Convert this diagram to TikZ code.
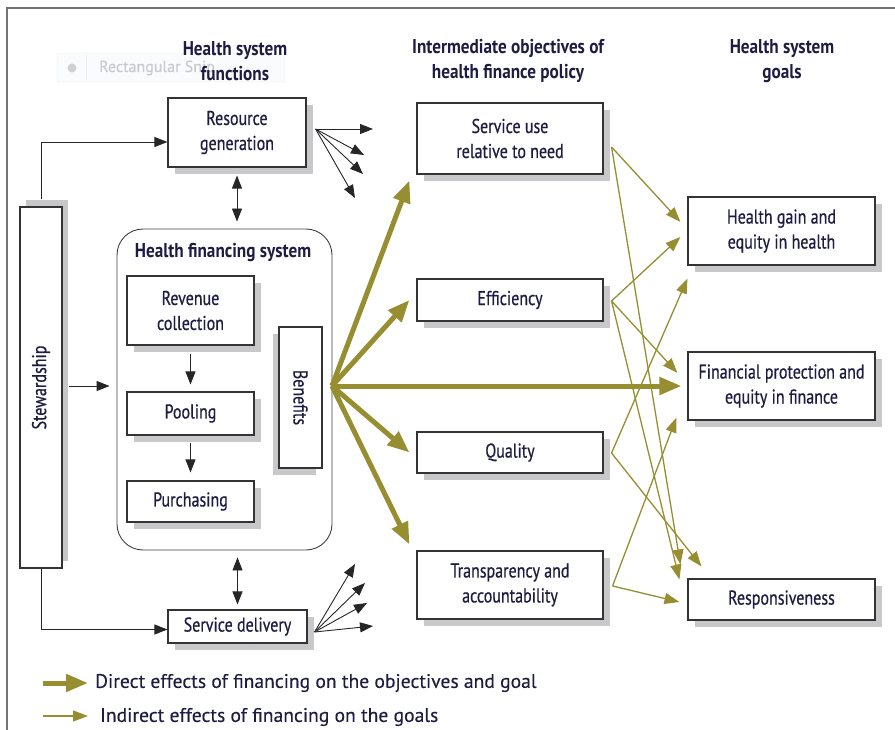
\documentclass[tikz,border=0pt]{standalone}
\usepackage{fontspec}
\setmainfont{PT Sans}[FakeBold=0.3]
\newfontfamily\condfont{PT Sans}[FakeStretch=0.80, FakeBold=0.5]
\newfontfamily\headfont{PT Sans Bold}[FakeStretch=0.86]
\usetikzlibrary{arrows.meta,shadows,calc}

\definecolor{oliveline}{RGB}{150,142,48}
\definecolor{shadowgray}{RGB}{200,200,203}
\definecolor{inkc}{RGB}{30,28,66}
\definecolor{framec}{RGB}{115,115,115}
\definecolor{snipfill}{RGB}{250,251,253}
\definecolor{snipedge}{RGB}{232,235,242}
\definecolor{sniptext}{RGB}{200,202,208}

\tikzset{
  boxtext/.style={text=inkc, font=\condfont\fontsize{20}{25}\selectfont, align=center},
  plainbox/.style={boxtext, draw=black!80, line width=1.1pt, fill=white, inner sep=0pt},
  box/.style={plainbox, drop shadow={shadow xshift=7pt, shadow yshift=-7pt, fill=shadowgray, opacity=1}},
  heading/.style={text=inkc, font=\headfont\fontsize{20}{25}\selectfont, align=center},
  hfsbox/.style={draw=black!75, line width=0.9pt, rounded corners=26pt, fill=white},
  blk/.style={draw=black!85, line width=0.9pt, -{Triangle[length=13pt,width=10pt]}},
  blkboth/.style={draw=black!85, line width=0.9pt, {Triangle[length=13pt,width=10pt]}-{Triangle[length=13pt,width=10pt]}},
  direct/.style={draw=oliveline, line width=5pt, -{Triangle[length=22pt,width=17pt]}},
  indirect/.style={draw=oliveline, line width=1.3pt, -{Triangle[length=15pt,width=11pt]}},
  legendtext/.style={text=inkc, font=\fontsize{19.6}{22}\selectfont, anchor=west, inner sep=0pt}
}

\begin{document}
\begin{tikzpicture}[x=1pt, y=-1pt]
\useasboundingbox (0,0) rectangle (895,730);

% outer frame (top and left edges only)
\draw[framec, line width=1.2pt] (7,730) -- (7,8) -- (895,8);

% faint snipping-tool label left in the background
\draw[draw=snipedge, fill=snipfill, rounded corners=2pt] (57,53) rectangle (285,82);
\node[circle, fill=black!18, minimum size=9pt, inner sep=0pt] (snipdot) at (72,68) {};
\draw[snipedge] (86,55) -- (86,80);
\node[anchor=west, text=sniptext, font=\fontsize{16}{18}\selectfont, inner sep=0pt] (sniptxt) at (99,68) {Rectangular Snip};

% column headings
\node[heading] (h1) at (235,61) {Health system\\functions};
\node[heading] (h2) at (508,61) {Intermediate objectives of\\health finance policy};
\node[heading] (h3) at (782,61) {Health system\\goals};

% health system functions
\node[box, minimum width=138pt, minimum height=69pt] (res) at (237,132.5) {Resource\\generation};
\node[box, minimum width=139pt, minimum height=33pt] (svc) at (237.5,626.5) {Service delivery};
\node[plainbox, minimum width=42pt, minimum height=361pt,
      drop shadow={shadow xshift=6pt, shadow yshift=7pt, fill=shadowgray, opacity=1}]
      (stew) at (41,387.5) {\rotatebox{90}{Stewardship}};

% health financing system
\node[hfsbox, minimum width=215pt, minimum height=321pt] (hfs) at (224.5,389.5) {};
\node[heading, inner sep=0pt] (hfstitle) at (223,253) {Health financing system};
\node[box, minimum width=127pt, minimum height=69pt] (rev) at (190.5,310.5) {Revenue\\collection};
\node[box, minimum width=127pt, minimum height=43pt] (pool) at (190.5,413.5) {Pooling};
\node[box, minimum width=127pt, minimum height=41pt] (purch) at (190.5,501.5) {Purchasing};
\node[plainbox, minimum width=43pt, minimum height=141pt,
      drop shadow={shadow xshift=-6pt, shadow yshift=-7pt, fill=shadowgray, opacity=1}]
      (ben) at (300.5,397.5) {\rotatebox{-90}{Benefits}};

% intermediate objectives
\node[box, minimum width=186pt, minimum height=71pt] (su) at (510,138.5) {Service use\\relative to need};
\node[box, minimum width=186pt, minimum height=42pt] (eff) at (510,300) {Efficiency};
\node[box, minimum width=186pt, minimum height=41pt] (qual) at (510,452.5) {Quality};
\node[box, minimum width=186pt, minimum height=68pt] (trans) at (510,585) {Transparency and\\accountability};

% goals
\node[box, minimum width=187pt, minimum height=68pt] (hg) at (781.5,231) {Health gain and\\equity in health};
\node[box, minimum width=187pt, minimum height=68pt] (fp) at (781.5,386) {Financial protection and\\equity in finance};
\node[box, minimum width=187pt, minimum height=41pt] (resp) at (781.5,599.5) {Responsiveness};

% stewardship links
\draw[blk] ($(stew.north)+(0,-7)$) |- ($(res.west)+(0,9.5)$);
\draw[blk] (stew.south) |- ($(svc.west)+(0,3)$);
\draw[blk, shorten <=6pt, shorten >=7pt] (stew.east |- 0,386) -- (hfs.west |- 0,386);

% links between functions
\draw[blkboth, shorten <=8pt, shorten >=7pt] (res.south) -- (hfs.north -| res.south);
\draw[blkboth, shorten <=7pt, shorten >=5pt] (hfs.south -| svc.north) -- (svc.north);
\draw[blk, shorten <=8pt, shorten >=7pt] (rev.south) -- (pool.north);
\draw[blk, shorten <=7pt, shorten >=8pt] (pool.south) -- (purch.north);

% fans of effects from resource generation and service delivery
\coordinate (rf) at ($(res.east)+(9,-3.5)$);
\coordinate (rf1) at (373,129);
\coordinate (rf2) at (364,155);
\coordinate (rf3) at (363,174);
\coordinate (rf4) at (355,198);
\foreach \t in {rf1,rf2,rf3,rf4} \draw[blk] (rf) -- (\t);
\coordinate (sf) at ($(svc.east)+(7,5.5)$);
\coordinate (sf1) at (373,626);
\coordinate (sf2) at (367,603);
\coordinate (sf3) at (365,583);
\coordinate (sf4) at (355,564);
\foreach \t in {sf1,sf2,sf3,sf4} \draw[blk] (sf) -- (\t);

% direct effects of financing
\coordinate (bo) at (332,386);
\draw[direct] (bo) -- ($(su.south west)+(-7,6)$);
\draw[direct] (bo) -- ($(eff.west)+(-7,0)$);
\draw[direct] (bo) -- ($(fp.west)+(-6,0)$);
\draw[direct] (bo) -- ($(qual.west)+(-7,0)$);
\draw[direct] (bo) -- ($(trans.north west)+(-7,-6)$);

% indirect effects on the goals
\coordinate (suo) at ($(su.east)+(8,8.5)$);
\coordinate (effo) at ($(eff.east)+(8,1)$);
\coordinate (qualo) at ($(qual.east)+(8,0.5)$);
\coordinate (transo) at ($(trans.east)+(9,1)$);
\draw[indirect] (suo) -- ($(hg.west)+(-7,-9)$);
\draw[indirect] (suo) -- ($(resp.north west)+(-7,-14)$);
\draw[indirect] (effo) -- ($(hg.west)+(-7,6)$);
\draw[indirect] (effo) -- ($(fp.west)+(-10,-13)$);
\draw[indirect] (effo) -- ($(resp.west)+(-8,-20)$);
\draw[indirect] (qualo) -- ($(hg.south west)+(0,13)$);
\draw[indirect] (qualo) -- ($(resp.north west)+(14,-12)$);
\draw[indirect] (transo) -- ($(fp.south west)+(-11,-3)$);
\draw[indirect] (transo) -- ($(resp.west)+(-8,2.5)$);

% legend
\coordinate (l1a) at (43,683);
\coordinate (l1b) at (88,683);
\coordinate (l2a) at (43,716);
\coordinate (l2b) at (88,716);
\draw[direct] (l1a) -- (l1b);
\draw[indirect] (l2a) -- (l2b);
\node[legendtext] (lt1) at (95,683) {Direct effects of financing on the objectives and goal};
\node[legendtext] (lt2) at (100,717) {Indirect effects of financing on the goals};
\end{tikzpicture}
\end{document}
